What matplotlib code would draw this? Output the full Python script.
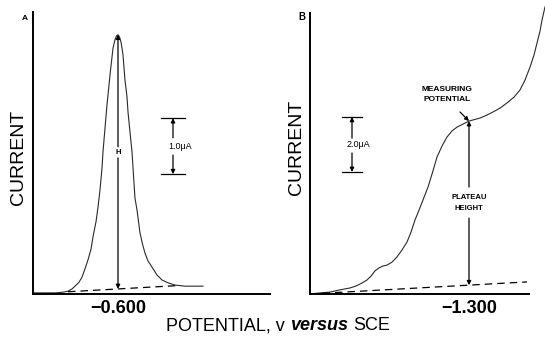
import matplotlib
matplotlib.use("Agg")
import matplotlib.pyplot as plt

plt.rcParams['font.family'] = ['Liberation Sans', 'DejaVu Sans']

# A: stripping peak, potential (V vs SCE) and current (uA)
peak_v = [-0.3875, -0.4175, -0.4425, -0.460, -0.475, -0.485, -0.4925, -0.5025, -0.510,
          -0.5175, -0.525, -0.5325, -0.5375, -0.545, -0.550, -0.555, -0.560, -0.5625,
          -0.5675, -0.5725, -0.5775, -0.580, -0.585, -0.5875, -0.5925, -0.5963, -0.600,
          -0.6038, -0.6075, -0.610, -0.6125, -0.615, -0.6175, -0.6225, -0.625, -0.630,
          -0.635, -0.640, -0.6425, -0.6475, -0.655, -0.6613, -0.6675, -0.675, -0.685,
          -0.6975, -0.710, -0.725, -0.7425, -0.7675, -0.7925, -0.8125]
peak_i = [0.02, 0.02, 0.02, 0.03, 0.05, 0.09, 0.14, 0.21, 0.30,
          0.45, 0.61, 0.80, 1.02, 1.29, 1.55, 1.86, 2.25, 2.54,
          2.96, 3.38, 3.73, 3.91, 4.23, 4.39, 4.54, 4.61, 4.63,
          4.59, 4.50, 4.39, 4.27, 4.04, 3.82, 3.52, 3.25, 2.89,
          2.54, 1.98, 1.71, 1.50, 1.09, 0.89, 0.73, 0.59, 0.48,
          0.34, 0.25, 0.20, 0.16, 0.14, 0.14, 0.14]
peak_base_v = [-0.475, -0.748]
peak_base_i = [0.04, 0.15]
peak_pos = -0.600
peak_top = 4.63
peak_bottom = 0.09

# B: polarographic wave
wave_v = [-0.9025, -0.9275, -0.9525, -0.9775, -1.0025, -1.0175, -1.0325, -1.045, -1.055,
          -1.065, -1.075, -1.085, -1.095, -1.1075, -1.120, -1.1325, -1.145, -1.155,
          -1.165, -1.175, -1.185, -1.1975, -1.2075, -1.220, -1.2325, -1.245, -1.2575,
          -1.270, -1.285, -1.300, -1.315, -1.3275, -1.345, -1.360, -1.3775, -1.395,
          -1.4125, -1.4275, -1.440, -1.4525, -1.4625, -1.470, -1.4775, -1.4825, -1.490]
wave_i = [0.00, 0.04, 0.07, 0.15, 0.22, 0.29, 0.40, 0.51, 0.65,
          0.84, 0.95, 1.02, 1.05, 1.16, 1.35, 1.60, 1.89, 2.25,
          2.69, 3.05, 3.42, 3.89, 4.36, 4.98, 5.38, 5.71, 5.93,
          6.07, 6.18, 6.29, 6.35, 6.40, 6.51, 6.62, 6.76, 6.95,
          7.16, 7.42, 7.78, 8.25, 8.69, 9.13, 9.56, 9.96, 10.44]
wave_base_v = [-0.9025, -1.445]
wave_base_i = [0.00, 0.44]
measure_v = -1.300
plateau_top = 6.29
plateau_bottom = 0.32

# scale bars (top of bar, length in uA)
scale_a_top, scale_a_len = 3.14, 1.0
scale_b_top, scale_b_len = 6.44, 2.0

W, H = 545, 338
fig = plt.figure(figsize=(W / 100, H / 100), dpi=100)


def panel(left, top, right, bottom):
    return fig.add_axes([left / W, 1 - bottom / H, (right - left) / W, (bottom - top) / H])


def arrow(ax, x, y_from, y_to, x_from=None):
    ax.annotate('', xy=(x, y_to), xytext=(x if x_from is None else x_from, y_from),
                arrowprops=dict(arrowstyle='-|>', color='k', lw=0.9,
                                shrinkA=0, shrinkB=0, mutation_scale=6))


def scale_bar(ax, x, half, top, length, gap_top, gap_bottom, label, lx, ly):
    bottom = top - length
    ax.plot([x - half, x + half], [top, top], color='k', lw=0.9)
    ax.plot([x - half, x + half], [bottom, bottom], color='k', lw=0.9)
    arrow(ax, x, gap_top, top)
    arrow(ax, x, gap_bottom, bottom)
    ax.text(lx, ly, label, fontsize=6.5, ha='center', va='center')


ax_a = panel(33, 12, 270, 294)
ax_b = panel(310, 13, 529, 294)

for ax in (ax_a, ax_b):
    ax.spines[['top', 'right']].set_visible(False)
    ax.spines[['left', 'bottom']].set_linewidth(1.4)
    ax.set_yticks([])
    ax.tick_params(axis='x', length=0, pad=4, labelsize=13)
    ax.patch.set_visible(False)

# panel A
ax_a.set_xlim(-0.3875, -0.98)
ax_a.set_ylim(0, 5.036)
ax_a.set_xticks([peak_pos])
ax_a.set_xticklabels(['\u22120.600'], fontweight='bold')
ax_a.plot(peak_v, peak_i, color='#2a2a2a', lw=0.8)
ax_a.plot(peak_base_v, peak_base_i, color='k', lw=0.9, ls=(0, (6, 4)))
arrow(ax_a, peak_pos, 2.63, peak_top)
arrow(ax_a, peak_pos, 2.43, peak_bottom)
ax_a.text(peak_pos, 2.52, 'H', fontsize=5.5, fontweight='bold', ha='center', va='center')
scale_bar(ax_a, -0.7375, 0.029, scale_a_top, scale_a_len, 2.79, 2.48,
          '1.0\u03bcA', -0.755, 2.64)

# panel B
ax_b.set_xlim(-0.9025, -1.45)
ax_b.set_ylim(0, 10.22)
ax_b.set_xticks([measure_v])
ax_b.set_xticklabels(['\u22121.300'], fontweight='bold')
ax_b.plot(wave_v, wave_i, color='#2a2a2a', lw=0.8, clip_on=False)
ax_b.plot(wave_base_v, wave_base_i, color='k', lw=0.9, ls=(0, (6, 4)))
arrow(ax_b, measure_v, 3.89, plateau_top)
arrow(ax_b, measure_v, 2.76, plateau_bottom)
ax_b.text(measure_v, 3.31, 'PLATEAU\nHEIGHT', fontsize=5.5, fontweight='bold',
          ha='center', va='center', linespacing=1.9)
ax_b.text(-1.246, 7.27, 'MEASURING\nPOTENTIAL', fontsize=6, fontweight='bold',
          ha='center', va='center', linespacing=1.6)
arrow(ax_b, measure_v, 6.62, plateau_top, x_from=-1.2775)
scale_bar(ax_b, -1.0075, 0.026, scale_b_top, scale_b_len, 5.67, 5.13,
          '2.0\u03bcA', -1.0225, 5.42)

# axis titles and panel letters
fig.text(19 / W, 1 - 157 / H, 'CURRENT', rotation=90, fontsize=14, ha='center', va='center')
fig.text(297 / W, 1 - 147 / H, 'CURRENT', rotation=90, fontsize=14, ha='center', va='center')
fig.text(25 / W, 1 - 18 / H, 'A', fontsize=6, fontweight='bold', ha='center', va='center')
fig.text(302 / W, 1 - 17 / H, 'B', fontsize=7, fontweight='bold', ha='center', va='center')

# x label with "versus" in bold italic
renderer = fig.canvas.get_renderer()
parts = [('POTENTIAL, v', 'normal', 'normal'),
         ('versus', 'italic', 'bold'),
         ('SCE', 'normal', 'normal')]
gap = 5
texts = [fig.text(0, 1 - 326 / H, s, fontsize=13, style=st, fontweight=wt, va='center')
         for s, st, wt in parts]
widths = [t.get_window_extent(renderer).width for t in texts]
x = 278 - (sum(widths) + gap * (len(widths) - 1)) / 2
for t, w in zip(texts, widths):
    t.set_x(x / W)
    x += w + gap

fig.savefig('out.png', dpi=100)
